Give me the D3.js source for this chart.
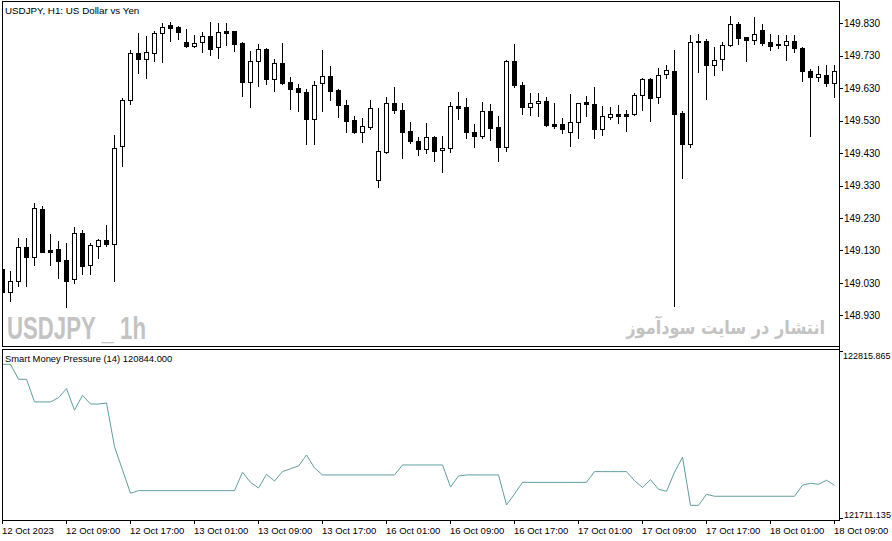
<!DOCTYPE html>
<html>
<head>
<meta charset="utf-8">
<script src="https://cdn.jsdelivr.net/npm/d3@7"></script>
<style>
  body { margin: 0; background: #fff; }
  svg text { font-family: 'Liberation Sans', Arial, sans-serif; }
</style>
</head>
<body>
<div id="chart"></div>
<script>
// USDJPY H1 bars, 12 Oct 2023 .. 18 Oct 09:00
var open = [
  149.073, 149.001, 149.037, 149.140, 149.111, 149.257, 149.130, 149.133, 149.099, 149.041,
  149.183, 149.084, 149.143, 149.161, 149.151, 149.451, 149.593, 149.738, 149.721, 149.739,
  149.799, 149.824, 149.818, 149.771, 149.761, 149.771, 149.790, 149.756, 149.805, 149.805,
  149.768, 149.650, 149.715, 149.750, 149.659, 149.707, 149.648, 149.630, 149.617, 149.536,
  149.645, 149.667, 149.624, 149.577, 149.531, 149.496, 149.509, 149.347, 149.434, 149.583,
  149.562, 149.499, 149.467, 149.442, 149.479, 149.439, 149.445, 149.574, 149.571, 149.494,
  149.484, 149.559, 149.509, 149.450, 149.713, 149.640, 149.573, 149.583, 149.590, 149.519,
  149.519, 149.494, 149.525, 149.587, 149.580, 149.505, 149.540, 149.550, 149.550, 149.550,
  149.608, 149.657, 149.602, 149.673, 149.682, 149.553, 149.459, 149.775, 149.775, 149.700,
  149.719, 149.762, 149.827, 149.787, 149.778, 149.808, 149.771, 149.766, 149.762, 149.775,
  149.753, 149.682, 149.665, 149.670, 149.647
]
var high = [
  149.082, 149.066, 149.167, 149.167, 149.275, 149.266, 149.180, 149.158, 149.152, 149.202,
  149.192, 149.153, 149.165, 149.208, 149.486, 149.601, 149.748, 149.799, 149.791, 149.807,
  149.830, 149.834, 149.822, 149.812, 149.794, 149.802, 149.834, 149.830, 149.830, 149.806,
  149.771, 149.744, 149.765, 149.753, 149.720, 149.768, 149.664, 149.642, 149.627, 149.651,
  149.748, 149.698, 149.627, 149.593, 149.543, 149.537, 149.593, 149.568, 149.602, 149.633,
  149.583, 149.526, 149.480, 149.523, 149.482, 149.483, 149.587, 149.618, 149.599, 149.520,
  149.587, 149.580, 149.543, 149.717, 149.765, 149.648, 149.614, 149.614, 149.602, 149.584,
  149.537, 149.613, 149.585, 149.606, 149.633, 149.574, 149.572, 149.578, 149.562, 149.614,
  149.662, 149.660, 149.691, 149.701, 149.747, 149.560, 149.794, 149.797, 149.781, 149.756,
  149.771, 149.852, 149.833, 149.788, 149.849, 149.827, 149.796, 149.793, 149.794, 149.794,
  149.756, 149.688, 149.697, 149.700, 149.700
]
var low = [
  148.996, 148.975, 149.021, 149.021, 149.085, 149.124, 149.085, 149.046, 148.956, 149.030,
  149.058, 149.058, 149.107, 149.144, 149.037, 149.390, 149.581, 149.678, 149.662, 149.715,
  149.712, 149.776, 149.783, 149.758, 149.758, 149.742, 149.733, 149.724, 149.764, 149.746,
  149.607, 149.573, 149.638, 149.643, 149.622, 149.643, 149.565, 149.561, 149.457, 149.457,
  149.561, 149.595, 149.542, 149.496, 149.493, 149.465, 149.503, 149.326, 149.431, 149.553,
  149.414, 149.460, 149.425, 149.429, 149.406, 149.373, 149.434, 149.536, 149.477, 149.450,
  149.477, 149.471, 149.406, 149.437, 149.635, 149.551, 149.548, 149.545, 149.514, 149.508,
  149.493, 149.453, 149.477, 149.545, 149.477, 149.487, 149.534, 149.524, 149.499, 149.548,
  149.564, 149.530, 149.585, 149.662, 148.959, 149.354, 149.450, 149.679, 149.598, 149.672,
  149.686, 149.760, 149.767, 149.715, 149.767, 149.764, 149.749, 149.753, 149.717, 149.741,
  149.653, 149.484, 149.653, 149.638, 149.604
]
var close = [
  149.002, 149.037, 149.140, 149.111, 149.260, 149.126, 149.126, 149.098, 149.037, 149.183,
  149.083, 149.146, 149.161, 149.151, 149.447, 149.593, 149.738, 149.721, 149.741, 149.799,
  149.818, 149.816, 149.804, 149.761, 149.768, 149.790, 149.752, 149.802, 149.801, 149.767,
  149.650, 149.715, 149.750, 149.659, 149.707, 149.647, 149.627, 149.617, 149.536, 149.639,
  149.667, 149.622, 149.577, 149.530, 149.496, 149.512, 149.568, 149.435, 149.583, 149.562,
  149.496, 149.468, 149.443, 149.479, 149.437, 149.445, 149.574, 149.570, 149.494, 149.484,
  149.559, 149.508, 149.450, 149.713, 149.641, 149.573, 149.583, 149.590, 149.517, 149.513,
  149.505, 149.526, 149.583, 149.580, 149.505, 149.543, 149.550, 149.545, 149.545, 149.608,
  149.657, 149.601, 149.670, 149.685, 149.551, 149.459, 149.771, 149.776, 149.700, 149.717,
  149.763, 149.827, 149.786, 149.779, 149.796, 149.770, 149.761, 149.762, 149.775, 149.753,
  149.684, 149.665, 149.673, 149.647, 149.682
]

// Smart Money Pressure (14)
var smp = [
  122728, 122728, 122629, 122629, 122479, 122479, 122479, 122507, 122567, 122424,
  122523, 122465, 122465, 122472, 122183, 122029, 121875, 121892, 121892, 121892,
  121892, 121892, 121892, 121892, 121892, 121892, 121892, 121892, 121892, 121892,
  122014, 121947, 121910, 122000, 121956, 122018, 122037, 122055, 122128, 122042,
  121996, 121996, 121996, 121996, 121996, 121996, 121996, 121996, 121996, 121996,
  122062, 122062, 122062, 122062, 122062, 122062, 121916, 121989, 121996, 121996,
  121996, 121996, 121996, 121797, 121870, 121947, 121947, 121947, 121947, 121947,
  121947, 121947, 121947, 121947, 122018, 122018, 122018, 122018, 122018, 121958,
  121914, 121965, 121901, 121888, 122014, 122113, 121795, 121795, 121868, 121855,
  121855, 121855, 121855, 121855, 121855, 121855, 121855, 121855, 121855, 121855,
  121928, 121941, 121934, 121961, 121928
]

var priceTicks = [148.93, 149.03, 149.13, 149.23, 149.33, 149.43, 149.53, 149.63, 149.73, 149.83]
var smpRange = [121711.135, 122815.865]
var timeBars = [0, 8, 16, 24, 32, 40, 48, 56, 64, 72, 80, 88, 96, 104]
var timeLabels = [
  '12 Oct 2023', '12 Oct 09:00', '12 Oct 17:00', '13 Oct 01:00', '13 Oct 09:00',
  '13 Oct 17:00', '16 Oct 01:00', '16 Oct 09:00', '16 Oct 17:00', '17 Oct 01:00',
  '17 Oct 09:00', '17 Oct 17:00', '18 Oct 01:00', '18 Oct 09:00'
]

var W = 892, H = 541
var left = 2, right = 839
var mainTop = 1, mainBottom = 346
var subTop = 349, subBottom = 520

var svg = d3
  .select('#chart')
  .append('svg')
  .attr('width', W)
  .attr('height', H)
  .style('display', 'block')

svg.append('rect').attr('width', W).attr('height', H).attr('fill', '#fff')

var x = d3.scaleLinear().domain([0, 104]).range([2, 834])
var y = d3.scaleLinear().domain([148.93, 149.83]).range([315.3, 23.3])
var y2 = d3.scaleLinear().domain(smpRange).range([518, 351])

// watermarks
svg.append('text')
  .attr('x', 7).attr('y', 338.5)
  .attr('font-size', 32).attr('font-weight', 'bold')
  .attr('fill', '#c3c3c3')
  .attr('textLength', 139).attr('lengthAdjust', 'spacingAndGlyphs')
  .text('USDJPY _ 1h')
svg.append('text')
  .attr('transform', 'translate(825,334) scale(0.85,1)')
  .attr('text-anchor', 'end')
  .attr('font-size', 19).attr('font-weight', 'bold')
  .style('font-family', "'DejaVu Sans', sans-serif")
  .attr('fill', '#c3c3c3')
  .text('انتشار در سایت سودآموز')

// candles
var clip = svg.append('clipPath').attr('id', 'mainclip')
clip.append('rect').attr('x', left + 1).attr('y', mainTop + 1)
  .attr('width', right - left - 1).attr('height', mainBottom - mainTop - 1)

var bars = d3.range(open.length).map(function(i) {
  return { i: i, o: open[i], h: high[i], l: low[i], c: close[i] }
})

var cg = svg.append('g').attr('clip-path', 'url(#mainclip)').attr('shape-rendering', 'crispEdges')

var candle = cg.selectAll('.candle').data(bars).enter().append('g').attr('class', 'candle')

candle.append('line')
  .attr('x1', d => x(d.i) + 0.5).attr('x2', d => x(d.i) + 0.5)
  .attr('y1', d => Math.round(y(d.h)))
  .attr('y2', d => Math.round(y(d.l)) + 1)
  .attr('stroke', '#000')

candle.append('rect')
  .attr('x', d => (d.c > d.o ? x(d.i) - 1.5 : x(d.i) - 2))
  .attr('y', function(d) {
    var t = Math.round(y(Math.max(d.o, d.c)))
    return d.c > d.o ? t + 0.5 : t
  })
  .attr('width', d => (d.c > d.o ? 4 : 5))
  .attr('height', function(d) {
    var t = Math.round(y(Math.max(d.o, d.c)))
    var b = Math.round(y(Math.min(d.o, d.c)))
    return d.c > d.o ? Math.max(1, b - t) : Math.max(1, b - t + 1)
  })
  .attr('fill', d => (d.c > d.o ? '#fff' : '#000'))
  .attr('stroke', d => (d.c > d.o ? '#000' : 'none'))

// indicator line
svg.append('path')
  .datum(smp)
  .attr('fill', 'none')
  .attr('stroke', '#5f9ea0')
  .attr('stroke-width', 1)
  .attr('d', d3.line().x((d, i) => x(i) + 0.5).y(d => y2(d)))

// frames
var frame = svg.append('g').attr('shape-rendering', 'crispEdges').attr('stroke', '#000').attr('fill', 'none')
frame.append('line').attr('x1', left).attr('x2', right).attr('y1', mainTop + 0.5).attr('y2', mainTop + 0.5)
frame.append('line').attr('x1', left + 0.5).attr('x2', left + 0.5).attr('y1', mainTop).attr('y2', mainBottom + 1)
frame.append('line').attr('x1', left).attr('x2', right).attr('y1', mainBottom + 0.5).attr('y2', mainBottom + 0.5)
frame.append('line').attr('x1', left).attr('x2', right).attr('y1', subTop + 0.5).attr('y2', subTop + 0.5)
frame.append('line').attr('x1', left + 0.5).attr('x2', left + 0.5).attr('y1', subTop).attr('y2', subBottom + 1)
frame.append('line').attr('x1', left).attr('x2', right + 1).attr('y1', subBottom + 0.5).attr('y2', subBottom + 0.5)
frame.append('line').attr('x1', right + 0.5).attr('x2', right + 0.5).attr('y1', mainTop).attr('y2', subBottom + 1)

// price axis
var pa = svg.append('g')
  .attr('transform', 'translate(' + (right + 1) + ',0)')
  .call(d3.axisRight(y).tickValues(priceTicks).tickSize(3).tickPadding(1).tickFormat(d3.format('.3f')))
pa.select('.domain').remove()
pa.selectAll('line').attr('shape-rendering', 'crispEdges')
pa.selectAll('text').attr('font-size', 10).attr('font-family', "'Liberation Sans', Arial, sans-serif").attr('fill', '#000')

// indicator scale labels
var sa = svg.append('g').attr('transform', 'translate(' + (right + 1) + ',0)')
sa.append('line').attr('x1', 0).attr('x2', 3).attr('y1', y2(smpRange[1]) + 0.5).attr('y2', y2(smpRange[1]) + 0.5)
  .attr('stroke', '#000').attr('shape-rendering', 'crispEdges')
sa.append('line').attr('x1', 0).attr('x2', 3).attr('y1', y2(smpRange[0]) + 0.5).attr('y2', y2(smpRange[0]) + 0.5)
  .attr('stroke', '#000').attr('shape-rendering', 'crispEdges')
sa.append('text').attr('x', 3).attr('y', y2(smpRange[1]) + 7.5)
  .attr('font-size', 9).text(d3.format('.3f')(smpRange[1]))
sa.append('text').attr('x', 4).attr('y', y2(smpRange[0]))
  .attr('font-size', 9).text(d3.format('.3f')(smpRange[0]))

// time axis
var ta = svg.append('g')
  .attr('transform', 'translate(0,' + (subBottom + 1) + ')')
  .call(d3.axisBottom(x).tickValues(timeBars).tickSize(3).tickPadding(3)
    .tickFormat((d, i) => timeLabels[i]))
ta.select('.domain').remove()
ta.selectAll('line').attr('shape-rendering', 'crispEdges')
ta.selectAll('text').attr('font-size', 9.5).attr('text-anchor', 'start').attr('dx', -0.5)
  .attr('font-family', "'Liberation Sans', Arial, sans-serif").attr('fill', '#000')

// captions
svg.append('text').attr('x', 5).attr('y', 14).attr('font-size', 9.8)
  .text('USDJPY, H1:  US Dollar vs Yen')
svg.append('text').attr('x', 5).attr('y', 362).attr('font-size', 9.4)
  .text('Smart Money Pressure (14) 120844.000')
</script>
</body>
</html>
